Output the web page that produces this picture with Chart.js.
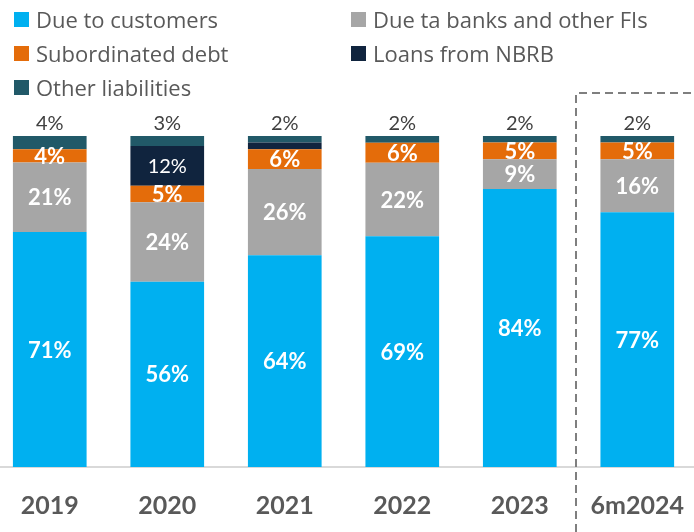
<!DOCTYPE html>
<html>
<head>
<meta charset="utf-8">
<title>Liabilities structure</title>
<script src="https://cdn.jsdelivr.net/npm/chart.js@4.4.1/dist/chart.umd.min.js"></script>
<style>
  html, body { margin:0; padding:0; background:#fff; overflow:hidden; }
  body { width:694px; height:532px; position:relative; font-family:Lato, sans-serif; }
  #wrap { position:absolute; left:-9px; top:0; width:709px; height:532px; }
  #legend { position:absolute; left:14px; top:2px; display:grid; grid-template-columns:337px auto; }
  #legend .item { display:flex; align-items:center; height:34px; color:#595959; font:22px "Open Sans", sans-serif; white-space:nowrap; }
  #legend .box { width:15px; height:15px; margin-right:7px; flex:none; }
</style>
</head>
<body>
<div id="wrap"><canvas id="grafik" width="709" height="532"></canvas></div>
<div id="legend"></div>
<script>
const periods = ["2019", "2020", "2021", "2022", "2023", "6m2024"];
const dueCustomers = [71, 56, 64, 69, 84, 77];
const dueBanks = [21, 24, 26, 22, 9, 16];
const subordinated = [4, 5, 6, 6, 5, 5];
const loansNbrb = [0, 12, 2, 0, 0, 0];
const otherLiab = [4, 3, 2, 2, 2, 2];

const series = [
  { label:"Due to customers", data:dueCustomers, color:"#00B0F0" },
  { label:"Due ta banks and other FIs", data:dueBanks, color:"#A6A6A6" },
  { label:"Subordinated debt", data:subordinated, color:"#E46C0A" },
  { label:"Loans from NBRB", data:loansNbrb, color:"#10243E" },
  { label:"Other liabilities", data:otherLiab, color:"#215968" }
];

// 100% stack: each column scaled to its own total
const totals = periods.map((_, i) => series.reduce((s, d) => s + d.data[i], 0));

const FONT = "Lato, sans-serif";

// value labels: inside the segments, "other" above the bar
const segLabels = {
  id:"segLabels",
  afterDatasetsDraw(chart){
    const ctx = chart.ctx;
    ctx.save();
    ctx.textAlign = "center";
    ctx.textBaseline = "middle";
    chart.data.datasets.forEach((ds, di) => {
      const meta = chart.getDatasetMeta(di);
      meta.data.forEach((bar, i) => {
        const v = ds.raw[i];
        if (!v) return;
        if (di === series.length - 1) {
          ctx.fillStyle = "#404040";
          ctx.font = "20px " + FONT;
          ctx.fillText(v + "%", bar.x, bar.y - 12);
          return;
        }
        if (v < 3) return;
        ctx.fillStyle = "#fff";
        ctx.font = (di === 3 ? "20px " : "bold 22px ") + FONT;
        ctx.fillText(v + "%", bar.x, (bar.y + bar.base) / 2 + 1);
      });
    });
    ctx.restore();
  }
};

// dashed frame separating the half-year column
const periodFrame = {
  id:"periodFrame",
  afterDraw(chart){
    const xs = chart.scales.x;
    const x = Math.round((xs.getPixelForValue(4) + xs.getPixelForValue(5)) / 2) - 3;
    const ctx = chart.ctx;
    ctx.save();
    ctx.strokeStyle = "#7F7F7F";
    ctx.lineWidth = 2;
    ctx.setLineDash([8, 5]);
    ctx.beginPath();
    ctx.moveTo(x, chart.height);
    ctx.lineTo(x, 93);
    ctx.lineTo(chart.width, 93);
    ctx.stroke();
    ctx.restore();
  }
};

const chart = new Chart(document.getElementById("grafik").getContext("2d"), {
  type:"bar",
  data:{
    labels:periods,
    datasets:series.map(s => ({
      label:s.label,
      raw:s.data,
      data:s.data.map((v, i) => v / totals[i] * 100),
      backgroundColor:s.color,
      borderWidth:0,
      barPercentage:1,
      categoryPercentage:0.627
    }))
  },
  options:{
    responsive:false,
    animation:false,
    devicePixelRatio:1,
    layout:{ padding:{ top:136, bottom:0, left:0, right:0 } },
    plugins:{ legend:{ display:false }, tooltip:{ enabled:false } },
    scales:{
      x:{
        stacked:true,
        grid:{ display:false },
        border:{ display:true, color:"#D9D9D9", width:2 },
        ticks:{ color:"#595959", padding:16, font:{ family:FONT, size:25, weight:"bold" } },
        afterFit(scale){ scale.height = 65; }
      },
      y:{ stacked:true, display:false, min:0, max:100 }
    }
  },
  plugins:[segLabels, periodFrame]
});

// legend in two columns
const legend = document.getElementById("legend");
chart.data.datasets.forEach(ds => {
  const item = document.createElement("div");
  item.className = "item";
  item.innerHTML = `<span class="box" style="background:${ds.backgroundColor}"></span><span>${ds.label}</span>`;
  legend.appendChild(item);
});
</script>
</body>
</html>
